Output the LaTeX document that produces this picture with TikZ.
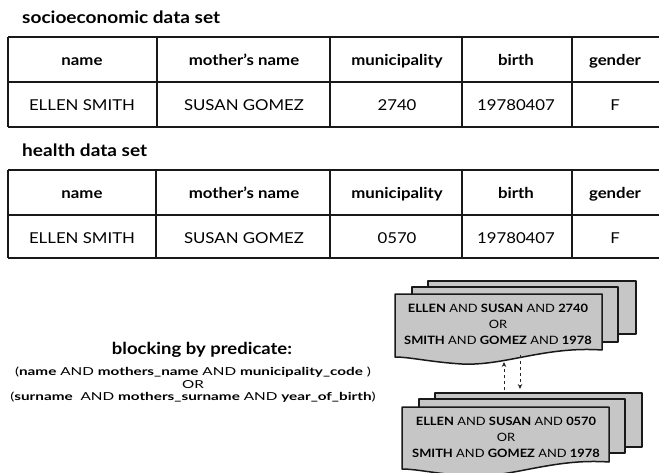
\documentclass[tikz,border=0pt]{standalone}
\usepackage{fontspec}
\usepackage{graphicx}
\setmainfont{Lato}[FakeStretch=1.12]
\usetikzlibrary{arrows.meta}
\definecolor{docgray}{HTML}{C6C6C6}
\tikzset{
  grid/.style={line width=1.8pt, black!90},
  hdr/.style={font=\fontsize{15}{17}\selectfont\bfseries, anchor=base, inner sep=0pt},
  cell/.style={font=\fontsize{15}{17}\selectfont, anchor=base, inner sep=0pt},
  ttl/.style={font=\fontsize{17}{19}\selectfont\bfseries, anchor=base west, inner sep=0pt},
  page/.style={fill=docgray, draw=black!90, line width=1.5pt, line join=round},
  doctext/.style={font=\fontsize{11.5}{16}\selectfont, align=center, inner sep=0pt},
  blk/.style={inner sep=0pt},
  link/.style={dashed, line width=0.9pt, black!85, -{Stealth[length=5pt,width=4.5pt]}}
}
\begin{document}
\begin{tikzpicture}[x=1pt,y=-1pt]
\useasboundingbox (0,0) rectangle (659,472);
\begin{scope}
\clip (0,0) rectangle (659,472);
% ---- table 1
\node[ttl] (t1) at (22,23.5) {socioeconomic data set};
\draw[grid] (8,37) -- (670,37) (8,82) -- (670,82) (8,127) -- (670,127);
\draw[grid] (8,37) -- (8,127) (157,37) -- (157,127) (330,37) -- (330,127)
  (462,37) -- (462,127) (572,37) -- (572,127);
\node[hdr] (a1) at (82,65) {name};
\node[hdr] (a2) at (244,65) {mother’s name};
\node[hdr] (a3) at (397,65) {municipality};
\node[hdr] (a4) at (516,65) {birth};
\node[hdr] (a5) at (615,65) {gender};
\node[cell] (b1) at (82,110.5) {ELLEN SMITH};
\node[cell] (b2) at (244,110.5) {SUSAN GOMEZ};
\node[cell] (b3) at (397,110.5) {2740};
\node[cell] (b4) at (516,110.5) {19780407};
\node[cell] (b5) at (615,110.5) {F};
% ---- table 2
\node[ttl] (t2) at (22,156) {health data set};
\draw[grid] (8,170) -- (670,170) (8,215) -- (670,215) (8,258) -- (670,258);
\draw[grid] (8,170) -- (8,258) (156,170) -- (156,258) (330,170) -- (330,258)
  (462,170) -- (462,258) (572,170) -- (572,258);
\node[hdr] (c1) at (82,198) {name};
\node[hdr] (c2) at (244,198) {mother’s name};
\node[hdr] (c3) at (397,198) {municipality};
\node[hdr] (c4) at (516,198) {birth};
\node[hdr] (c5) at (615,198) {gender};
\node[cell] (d1) at (82,243) {ELLEN SMITH};
\node[cell] (d2) at (244,243) {SUSAN GOMEZ};
\node[cell] (d3) at (397,243) {0570};
\node[cell] (d4) at (516,243) {19780407};
\node[cell] (d5) at (615,243) {F};
% ---- top document stack
\draw[page] (428,281) rectangle (636,334);
\draw[page] (412,287) rectangle (618,342);
\draw[page] (395,294) -- (602,294) -- (602,350)
  .. controls (545,346) and (505,366) .. (462,364)
  .. controls (430,362) and (410,357) .. (395,357) -- cycle;
\node[doctext] (q1) at (498,324) {\textbf{ELLEN} AND \textbf{SUSAN} AND \textbf{2740}\\OR\\\textbf{SMITH} AND \textbf{GOMEZ} AND \textbf{1978}};
% ---- bottom document stack
\draw[page] (435,393) rectangle (642,447);
\draw[page] (419,399) rectangle (625,453);
\draw[page] (402,407) -- (609,407) -- (609,462)
  .. controls (552,458) and (512,478) .. (469,476)
  .. controls (437,474) and (417,469) .. (402,469) -- cycle;
\node[doctext] (q2) at (506,437) {\textbf{ELLEN} AND \textbf{SUSAN} AND \textbf{0570}\\OR\\\textbf{SMITH} AND \textbf{GOMEZ} AND \textbf{1978}};
\end{scope}
% ---- arrows between stacks
\coordinate (upS) at (504,390);
\coordinate (upE) at (504,362);
\coordinate (dnS) at (520,355);
\coordinate (dnE) at (520,389);
\draw[link] (upS) -- (upE);
\draw[link] (dnS) -- (dnE);
% ---- blocking predicate
\node[font=\fontsize{16.5}{18}\selectfont\bfseries, inner sep=0pt] (bt) at (202,350) {blocking by predicate:};
\node[blk] (bp) at (193,385.5) {\fontsize{11}{12.8}\selectfont\scalebox{1.24}[1]{\begin{tabular}{@{}c@{}}(\textbf{name} AND \textbf{mothers\_name} AND \textbf{municipality\_code} )\\OR\\(\textbf{surname}\ \ AND \textbf{mothers\_surname} AND \textbf{year\_of\_birth})\end{tabular}}};
\end{tikzpicture}
\end{document}
